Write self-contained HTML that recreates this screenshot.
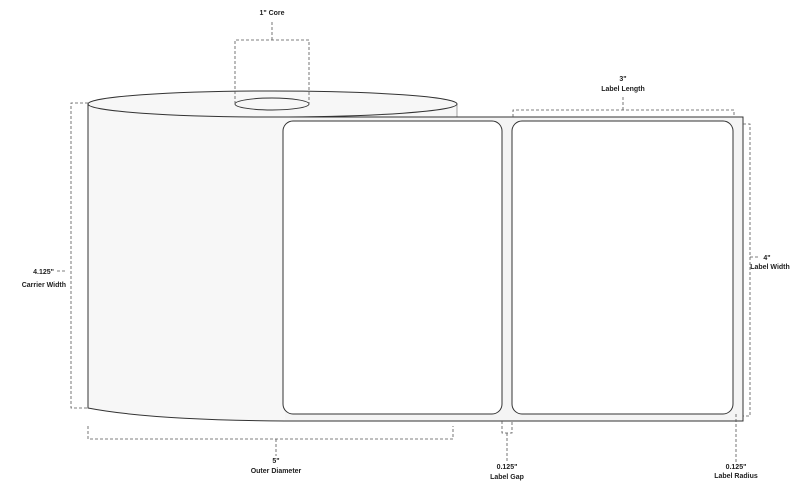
<!DOCTYPE html>
<html><head><style>
body{margin:0;background:#fff}
svg{display:block}
text{font-family:"Liberation Sans",sans-serif;font-weight:bold;font-size:7px;fill:#222}
</style></head><body>
<svg width="809" height="492" viewBox="0 0 809 492">
<!-- roll body -->
<path d="M88,104 L88,408 Q150,420 285,421 L457,421 L457,104 Z" fill="#f7f7f7" stroke="none"/>
<path d="M88,104 L88,408 Q150,420 285,421" fill="none" stroke="#333" stroke-width="1"/>
<line x1="457" y1="104" x2="457" y2="117" stroke="#888" stroke-width="0.8"/>
<ellipse cx="272.5" cy="104" rx="184.5" ry="13" fill="#f7f7f7" stroke="#333" stroke-width="1"/>
<ellipse cx="272" cy="104" rx="37" ry="6" fill="none" stroke="#333" stroke-width="0.9"/>
<!-- carrier -->
<path d="M290,117 L743,117 L743,421 L285,421" fill="#f4f4f4" stroke="#333" stroke-width="1"/>
<rect x="283" y="121" width="219" height="293" rx="10" fill="#fff" stroke="#333" stroke-width="1"/>
<rect x="512" y="121" width="221" height="293" rx="10" fill="#fff" stroke="#333" stroke-width="1"/>
<!-- dashed dims -->
<g fill="none" stroke="#555" stroke-width="0.8" stroke-dasharray="3,2">
<path d="M235,104 L235,40 L309,40 L309,104"/>
<path d="M272,40 L272,20"/>
<path d="M88,103 L71,103 L71,408 L88,408"/>
<path d="M88,426 L88,439 L453,439 L453,426"/>
<path d="M276,439 L276,456"/>
<path d="M513,117 L513,110 L734,110 L734,117"/>
<path d="M623,110 L623,97"/>
<path d="M743,124 L750,124 L750,416 L743,416"/>
<path d="M750,257 L758,257"/>
<path d="M502,421 L502,433 L512,433 L512,421"/>
<path d="M507,433 L507,462"/>
<path d="M736,414 L736,462"/>
<path d="M57,271 L67,271"/>
</g>
<text x="272" y="15" text-anchor="middle">1" Core</text>
<text x="54" y="274" text-anchor="end">4.125"</text>
<text x="66" y="287" text-anchor="end">Carrier Width</text>
<text x="276" y="463" text-anchor="middle">5"</text>
<text x="276" y="473" text-anchor="middle">Outer Diameter</text>
<text x="623" y="81" text-anchor="middle">3"</text>
<text x="623" y="91" text-anchor="middle">Label Length</text>
<text x="767" y="260" text-anchor="middle">4"</text>
<text x="770" y="269" text-anchor="middle">Label Width</text>
<text x="507" y="469" text-anchor="middle">0.125"</text>
<text x="507" y="479" text-anchor="middle">Label Gap</text>
<text x="736" y="469" text-anchor="middle">0.125"</text>
<text x="736" y="478" text-anchor="middle">Label Radius</text>
</svg>
</body></html>
